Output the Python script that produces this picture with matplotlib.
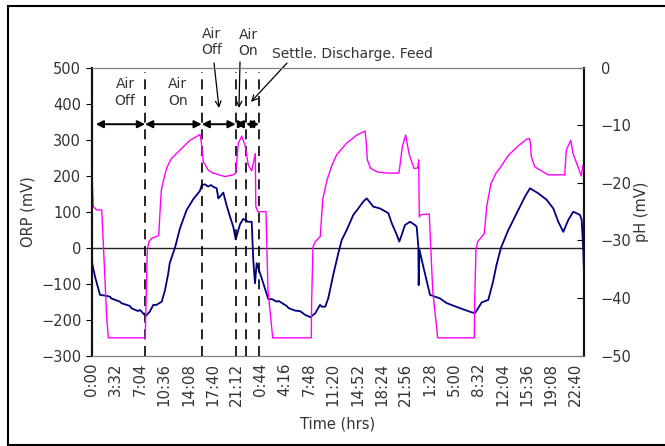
import numpy as np
import matplotlib
matplotlib.use("Agg")
import matplotlib.pyplot as plt
from matplotlib.lines import Line2D

plt.rcParams['font.family'] = ['DejaVu Sans']

# ORP (mV), navy line, left axis
orp_hours = [0.0, 0.07, 0.48, 1.21, 1.90, 2.68, 2.87, 4.14, 4.33, 5.60, 5.79, 6.77, 7.06, 7.90,
             8.48, 9.01, 9.45, 10.24, 10.72, 11.20, 11.41, 12.18, 12.91, 13.89, 14.86, 15.84,
             16.09, 16.57, 17.01, 17.45, 17.78, 18.28, 18.52, 18.76, 19.25, 19.74, 20.23, 20.71,
             21.06, 21.69, 22.17, 22.90, 23.40, 23.63, 23.88, 24.13, 25.10, 25.83, 26.37, 27.06,
             27.35, 28.52, 28.81, 29.78, 30.46, 31.24, 31.97, 32.70, 33.39, 33.68, 34.16, 34.60,
             34.85, 35.33, 36.06, 36.56, 37.29, 38.26, 38.99, 39.72, 40.22, 41.18, 42.16, 43.38,
             43.88, 44.61, 44.99, 45.34, 45.82, 46.55, 47.28, 47.53, 47.77, 47.82, 47.94, 48.50,
             49.48, 50.94, 51.92, 53.86, 55.33, 56.06, 57.04, 58.00, 58.69, 59.20, 59.86, 60.93,
             62.16, 63.37, 64.10, 65.32, 66.54, 67.51, 68.24, 68.97, 69.70, 70.43, 71.41, 71.66,
             71.89, 72.0]
orp_mv = [26, -43, -80, -131, -133, -136, -141, -150, -154, -162, -168, -176, -173, -190,
          -178, -159, -159, -150, -118, -71, -43, 0, 54, 105, 135, 158,
          174, 176, 170, 174, 169, 165, 137, 142, 153, 117, 86, 58,
          23, 65, 80, 72, 72, -34, -99, -43, -99, -143, -143, -150,
          -148, -162, -168, -175, -176, -187, -193, -182, -159, -164, -164, -140,
          -118, -75, -16, 21, 49, 91, 109, 128, 137, 114, 109, 96,
          68, 36, 17, 36, 63, 72, 63, 58, 3, -104, -6, -53,
          -131, -141, -154, -168, -178, -182, -152, -145, -95, -48, 0, 49,
          96, 142, 165, 151, 133, 109, 72, 44, 77, 100, 91, 77,
          -6, -71]

# pH (mV), magenta line, right axis
ph_hours = [0.0, 0.23, 0.73, 1.46, 1.70, 2.19, 2.43, 7.84, 7.88, 8.13, 8.38, 8.78, 9.51, 9.80,
            9.99, 10.18, 10.47, 10.97, 11.64, 12.91, 14.38, 15.84, 15.99, 16.32, 17.05, 17.78,
            19.50, 20.71, 21.06, 21.44, 21.94, 22.42, 22.90, 23.40, 23.69, 23.93, 24.00, 24.32,
            25.49, 25.78, 26.47, 32.12, 32.16, 32.36, 32.70, 33.43, 33.78, 34.41, 35.14, 35.83,
            37.29, 38.76, 39.97, 40.12, 40.31, 40.80, 41.77, 43.23, 44.94, 45.43, 45.92, 46.40,
            47.13, 47.68, 47.82, 47.91, 48.16, 49.37, 49.87, 50.60, 55.96, 56.00, 56.20, 56.45,
            57.42, 57.77, 58.40, 59.13, 59.72, 60.89, 62.35, 63.62, 64.03, 64.17, 64.29, 64.79,
            66.73, 69.18, 69.41, 70.06, 70.39, 71.12, 71.60, 71.85, 72.0]
ph_mv = [-17.2, -24.1, -24.7, -24.7, -30.5, -43.3, -46.9, -46.9, -44.3, -31.6, -30.2, -29.6, -29.3, -29.1,
         -25.0, -21.3, -19.7, -17.4, -15.8, -14.3, -12.6, -11.6, -12.5, -16.3, -17.8, -18.3,
         -18.9, -18.6, -18.3, -13.1, -11.9, -13.4, -16.9, -17.9, -16.3, -14.9, -24.1, -25.0,
         -25.0, -38.6, -46.9, -46.9, -41.0, -31.1, -30.2, -29.3, -22.9, -19.5, -16.9, -15.1,
         -13.1, -11.7, -11.0, -12.5, -16.0, -17.5, -18.1, -18.3, -18.3, -13.7, -11.7, -14.9,
         -17.5, -17.4, -16.0, -25.9, -25.5, -25.4, -38.6, -46.9, -46.9, -41.0, -31.6, -30.2,
         -28.8, -24.1, -20.1, -18.3, -17.4, -15.3, -13.6, -12.4, -12.3, -13.1, -15.4, -17.2,
         -18.6, -18.6, -14.3, -12.6, -14.9, -17.2, -18.8, -16.9, -16.8]

time_labels = ["0:00", "3:32", "7:04", "10:36", "14:08", "17:40", "21:12", "0:44", "4:16",
               "7:48", "11:20", "14:52", "18:24", "21:56", "1:28", "5:00", "8:32", "12:04",
               "15:36", "19:08", "22:40"]

# phase boundaries (hours) of the first cycle
phase_edges = [0.59, 7.80, 16.09, 21.06, 22.57, 24.47]

txt = '#333333'
fig = plt.figure(figsize=(6.65, 4.46), dpi=100)
ax = fig.add_axes([0.1379, 0.2025, 0.7403, 0.6457])
ax2 = ax.twinx()

ax.plot(orp_hours, orp_mv, color='#000080', lw=1.3, zorder=3)
ax2.plot(ph_hours, ph_mv, color='#FF00FF', lw=1.0, zorder=2)

ax.set_xlim(0, 72)
ax.set_ylim(-300, 500)
ax2.set_ylim(-50, 0)
ax.axhline(0, color='#222222', lw=1.0, zorder=1)

ax.set_xticks(np.arange(len(time_labels)) * 212 / 60)
ax.set_xticklabels(time_labels, rotation=90, fontsize=10.8, color=txt)
ax.set_yticks(np.arange(-300, 501, 100))
ax2.set_yticks(np.arange(-50, 1, 10))
ax.tick_params(axis='x', length=0, pad=5)
ax.tick_params(axis='y', direction='out', length=4, labelsize=10.5, labelcolor=txt)
ax2.tick_params(axis='y', direction='in', length=5, labelsize=10.5, labelcolor=txt, pad=12)

ax.set_xlabel("Time (hrs)", fontsize=10.5, color=txt, labelpad=8)
ax.set_ylabel("ORP (mV)", fontsize=10.5, color=txt, labelpad=4)
ax2.set_ylabel("pH (mV)", fontsize=10.5, color=txt, labelpad=2)

for a in (ax, ax2):
    a.spines['top'].set_color('#808080')
    a.spines['bottom'].set_color('#808080')
    a.spines['left'].set_color('#111111')
    a.spines['right'].set_color('#111111')
    a.spines['left'].set_linewidth(1.5)
    a.spines['right'].set_linewidth(1.5)

# dashed phase lines
for h in phase_edges[1:]:
    ax.axvline(h, ymin=0, ymax=0.985, color='k', lw=1.2, ls=(0, (6, 4)), zorder=4)

# double arrows for phases
for a0, a1 in zip(phase_edges[:-1], phase_edges[1:]):
    ax.annotate('', xy=(a1, 343), xytext=(a0, 343),
                arrowprops=dict(arrowstyle='<|-|>', color='k', lw=1.4,
                                mutation_scale=11, shrinkA=0, shrinkB=0), zorder=5)

ax.text(4.88, 431, "Air\nOff", ha='center', va='center', fontsize=10, color=txt)
ax.text(12.58, 431, "Air\nOn", ha='center', va='center', fontsize=10, color=txt)
ax.text(17.55, 571, "Air\nOff", ha='center', va='center', fontsize=10, color=txt, clip_on=False)
ax.text(22.86, 568, "Air\nOn", ha='center', va='center', fontsize=10, color=txt, clip_on=False)
ax.text(26.32, 538, "Settle. Discharge. Feed", ha='left', va='center', fontsize=10, color=txt,
        clip_on=False)

arrow_kw = dict(arrowstyle='->', color='k', lw=0.9, shrinkA=0, shrinkB=0)
ax.annotate('', xy=(18.62, 388), xytext=(17.89, 513), arrowprops=arrow_kw, annotation_clip=False)
ax.annotate('', xy=(21.54, 388), xytext=(21.69, 516), arrowprops=arrow_kw, annotation_clip=False)
ax.annotate('', xy=(23.30, 405), xytext=(28.56, 513), arrowprops=arrow_kw, annotation_clip=False)

# figure border (right edge falls outside the image)
x0, y0, y1 = 8 / 665, 1 - 445 / 446, 1 - 6 / 446
for xs, ys in [([x0, 1.02], [y1, y1]), ([x0, 1.02], [y0, y0]), ([x0, x0], [y0, y1])]:
    fig.add_artist(Line2D(xs, ys, color='k', lw=1.5))

fig.savefig("out.png", dpi=100)
